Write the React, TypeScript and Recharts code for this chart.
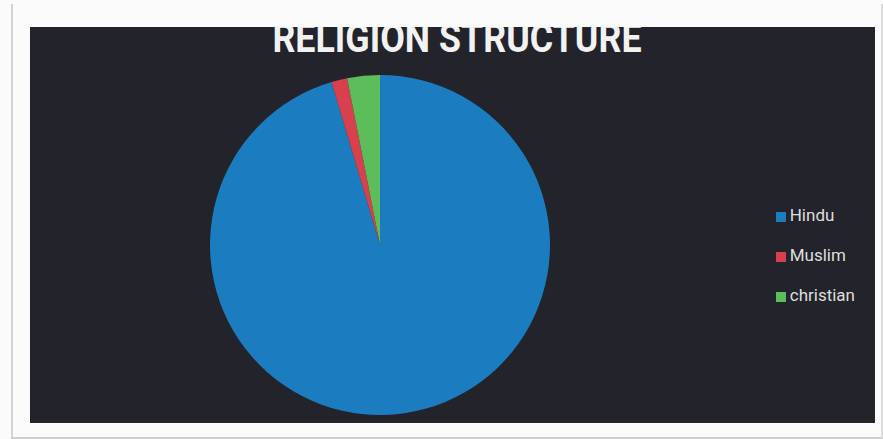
import { PieChart, Pie, Cell, Legend } from 'recharts';

const religions = ['Hindu', 'Muslim', 'christian'];
const shares = [95.4, 1.5, 3.1];
const sliceColors = ['#1b7dc0', '#d8404e', '#5cbd5a'];

const data = religions.map((name, i) => ({ name, value: shares[i] }));

const App = () => {
    return (
        <div style={{ position: 'fixed', left: 0, top: 0, width: 883, height: 439, background: '#fbfbfb' }}>
            <div style={{ position: 'absolute', left: 11, top: 4, width: 868, height: 433, borderLeft: '2px solid #d4d4d4', borderRight: '2px solid #dcdcdc', borderBottom: '2px solid #cfcfcf' }} />
            <div style={{ position: 'absolute', left: 30, top: 27, width: 845, height: 396, background: '#23232b', overflow: 'hidden' }}>
                <div style={{ position: 'absolute', left: 4, width: 845, top: -12, textAlign: 'center', color: '#f2f2f2', fontFamily: 'Roboto, sans-serif', fontWeight: 700, fontSize: 40, lineHeight: '48px', transform: 'scaleX(0.895)', transformOrigin: '427px 0' }}>
                    RELIGION STRUCTURE
                </div>
                <PieChart width={845} height={396}>
                    <Pie
                        data={data}
                        dataKey="value"
                        nameKey="name"
                        cx={345}
                        cy={213}
                        outerRadius={170}
                        startAngle={90}
                        endAngle={-270}
                        stroke="none"
                        isAnimationActive={false}
                    >
                        {data.map((d, i) => (
                            <Cell key={d.name} fill={sliceColors[i]} />
                        ))}
                    </Pie>
                    <Legend
                        layout="vertical"
                        verticalAlign="top"
                        align="right"
                        iconType="square"
                        iconSize={10}
                        wrapperStyle={{ right: 10, top: 168 }}
                        formatter={(v: string) => <span style={{ color: '#dedede', fontFamily: 'Roboto, sans-serif', fontSize: 17, lineHeight: '40px' }}>{v}</span>}
                    />
                </PieChart>
            </div>
        </div>
    );
};

export default App;
